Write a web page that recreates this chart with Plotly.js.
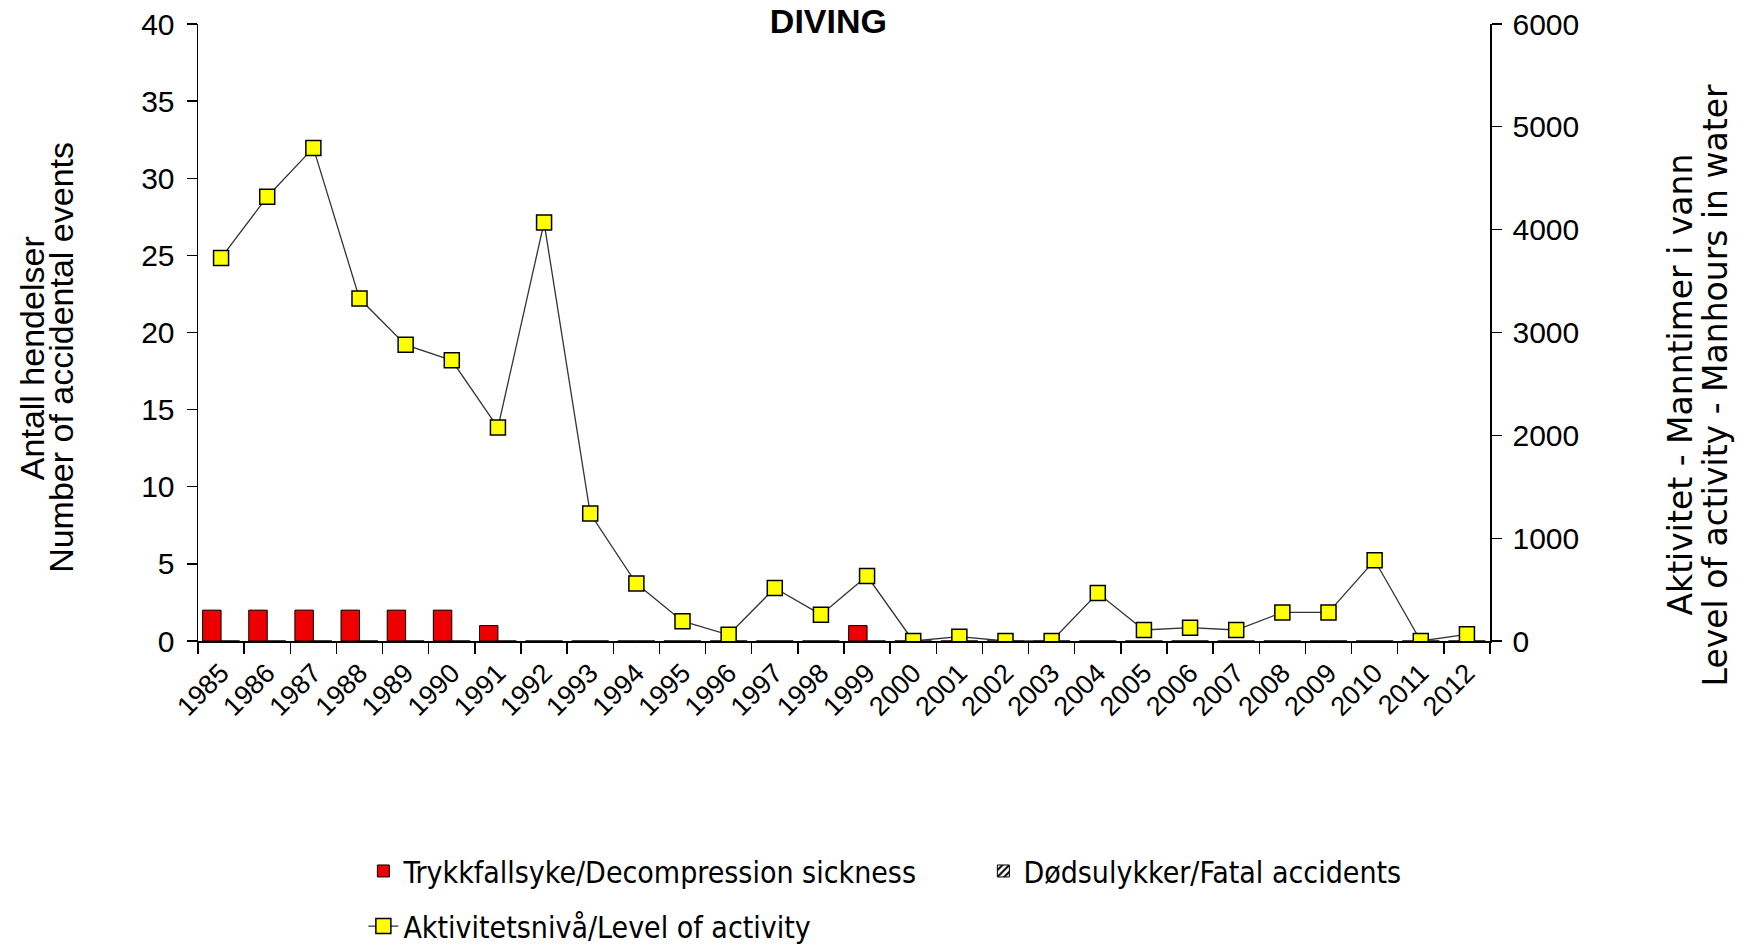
<!DOCTYPE html>
<html>
<head>
<meta charset="utf-8">
<script src="https://cdn.plot.ly/plotly-3.0.1.min.js"></script>
<style>html,body{margin:0;padding:0;background:#fff;}#chart{width:1744px;height:946px;}</style>
</head>
<body>
<div id="chart"></div>
<script>
const years = ["1985","1986","1987","1988","1989","1990","1991","1992","1993","1994","1995","1996","1997","1998","1999","2000","2001","2002","2003","2004","2005","2006","2007","2008","2009","2010","2011","2012"];
const decompression = [2,2,2,2,2,2,1,0,0,0,0,0,0,0,1,0,0,0,0,0,0,0,0,0,0,0,0,0];
const fatal = [0,0,0,0,0,0,0,0,0,0,0,0,0,0,0,0,0,0,0,0,0,0,0,0,0,0,0,0];
const activity = [3725,4320,4795,3330,2880,2730,2075,4070,1240,558,193,60,515,256,632,0,42,0,0,466,107,130,107,278,278,785,0,65];
const leftTicks = [0,5,10,15,20,25,30,35,40];
const rightTicks = [0,1000,2000,3000,4000,5000,6000];

const traces = [
  {type:'bar', name:'Trykkfallsyke/Decompression sickness', x:years, y:decompression,
   marker:{color:'#ee0000', line:{color:'#000', width:1}}, legend:'legend', yaxis:'y'},
  {type:'bar', name:'Dødsulykker/Fatal accidents', x:years, y:fatal,
   marker:{color:'#ffffff', pattern:{shape:'/', fgcolor:'#000', bgcolor:'#fff', size:6, solidity:0.4}, line:{color:'#000', width:1}}, legend:'legend', yaxis:'y'},
  {type:'scatter', mode:'lines+markers', name:'Aktivitetsnivå/Level of activity', x:years, y:activity,
   yaxis:'y2', legend:'legend2',
   line:{color:'#333', width:1.3},
   marker:{symbol:'square', size:15, color:'#ffff00', line:{color:'#000', width:1.5}}}
];

const tickFont = {family:'Liberation Sans, Arial, sans-serif', size:30, color:'#000'};
const legFont = {family:'DejaVu Sans Condensed, DejaVu Sans, sans-serif', size:30, color:'#000'};
const layout = {
  width:1744, height:946,
  margin:{l:198, r:254, t:24, b:305},
  paper_bgcolor:'#fff', plot_bgcolor:'#fff',
  barmode:'group', bargap:0.2, bargroupgap:0,
  showlegend:true,
  title:{text:'<b>DIVING</b>', font:{family:'Liberation Sans, Arial, sans-serif', size:34, color:'#000'},
         x:0.475, xanchor:'center', y:0.99, yanchor:'top', yref:'container'},
  xaxis:{type:'category', range:[-0.5,27.5], tickangle:-45, tickson:'boundaries',
         ticks:'outside', ticklen:11, tickcolor:'#000', tickwidth:1.3, ticklabelstandoff:4,
         showline:true, linecolor:'#000', linewidth:1.5, showgrid:false, zeroline:false,
         tickfont:{family:'Liberation Sans, Arial, sans-serif', size:27, color:'#000'}, automargin:false},
  yaxis:{range:[0,40], tickvals:leftTicks, ticks:'outside', ticklen:10, tickcolor:'#000', tickwidth:1.3,
         showline:true, linecolor:'#000', linewidth:1.5, showgrid:false, zeroline:false, ticklabelstandoff:6,
         tickfont:tickFont, automargin:false},
  yaxis2:{range:[0,6000], tickvals:rightTicks, overlaying:'y', side:'right', ticks:'outside', ticklen:10,
          tickcolor:'#000', tickwidth:1.3, showline:true, linecolor:'#000', linewidth:1.5, ticklabelstandoff:5,
          showgrid:false, zeroline:false, tickfont:tickFont, automargin:false},
  legend:{orientation:'h', x:0.128, xanchor:'left', y:0.0793, yref:'container', yanchor:'middle', entrywidth:575,
          font:legFont, bgcolor:'rgba(0,0,0,0)'},
  legend2:{orientation:'h', x:0.128, xanchor:'left', y:0.0211, yref:'container', yanchor:'middle',
          font:legFont, bgcolor:'rgba(0,0,0,0)'},
  annotations:[
    {text:'Antall hendelser', xref:'paper', yref:'paper', x:-0.129, y:0.459, xanchor:'center', yanchor:'middle',
     textangle:-90, showarrow:false, font:{family:'Liberation Sans, Arial, sans-serif', size:34, color:'#000'}},
    {text:'Number of accidental events', xref:'paper', yref:'paper', x:-0.106, y:0.459, xanchor:'center', yanchor:'middle',
     textangle:-90, showarrow:false, font:{family:'Liberation Sans, Arial, sans-serif', size:34, color:'#000'}},
    {text:'Aktivitet - Manntimer i vann', xref:'paper', yref:'paper', x:1.1475, y:0.415, xanchor:'center', yanchor:'middle',
     textangle:-90, showarrow:false, font:{family:'DejaVu Sans, sans-serif', size:33, color:'#000'}},
    {text:'Level of activity - Manhours in water', xref:'paper', yref:'paper', x:1.1745, y:0.415, xanchor:'center', yanchor:'middle',
     textangle:-90, showarrow:false, font:{family:'DejaVu Sans, sans-serif', size:33, color:'#000'}}
  ]
};

Plotly.newPlot('chart', traces, layout, {displayModeBar:false, staticPlot:true});
</script>
</body>
</html>
